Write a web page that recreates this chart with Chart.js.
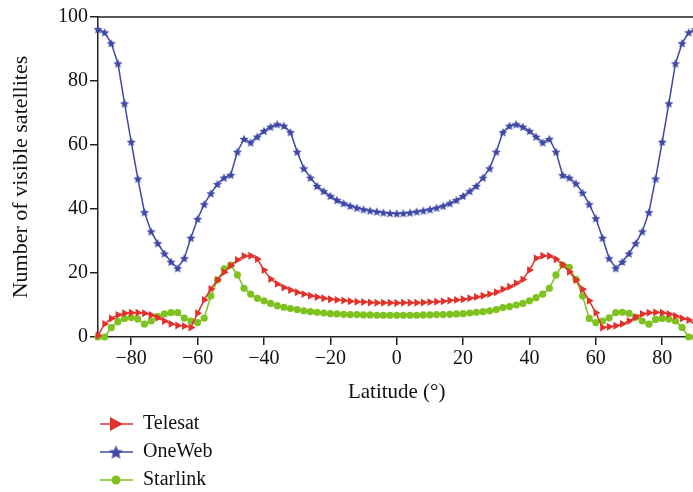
<!DOCTYPE html>
<html>
<head>
<meta charset="utf-8">
<script src="https://cdn.jsdelivr.net/npm/chart.js@4"></script>
<style>
  html, body { margin: 0; padding: 0; background: #fff; overflow: hidden; }
  #contenitore { width: 700px; height: 492px; }
</style>
</head>
<body>
<div id="contenitore"><canvas id="mioGrafico" width="700" height="492"></canvas></div>
<script>
// Latitudini (°) dei campioni
const latitudini = [
  -90, -88, -86, -84, -82, -80, -78, -76, -74, -72, -70, -68, -66, -64, -62, -60,
  -58, -56, -54, -52, -50, -48, -46, -44, -42, -40, -38, -36, -34, -32, -30, -28,
  -26, -24, -22, -20, -18, -16, -14, -12, -10, -8, -6, -4, -2, 0,
  2, 4, 6, 8, 10, 12, 14, 16, 18, 20, 22, 24, 26, 28, 30, 32,
  34, 36, 38, 40, 42, 44, 46, 48, 50, 52, 54, 56, 58, 60, 62, 64,
  66, 68, 70, 72, 74, 76, 78, 80, 82, 84, 86, 88, 90
];

// Numero di satelliti visibili
const telesat = [
  0.5, 4.1, 5.8, 6.9, 7.4, 7.6, 7.6, 7.4, 6.9, 6.0, 5.0, 4.1, 3.6, 3.4, 3.0, 7.4,
  11.6, 15, 17.8, 20.2, 22.3, 24.1, 25.3, 25.4, 24.4, 20.9, 18.1, 16.6, 15.5, 14.7, 14, 13.4,
  12.9, 12.5, 12.1, 11.8, 11.6, 11.4, 11.2, 11, 10.9, 10.8, 10.7, 10.7, 10.7, 10.6,
  10.7, 10.7, 10.7, 10.8, 10.9, 11, 11.2, 11.4, 11.6, 11.8, 12.1, 12.5, 12.9, 13.4, 14, 14.9,
  15.7, 16.8, 18, 20.9, 24.6, 25.4, 25.3, 24.3, 22.6, 20.4, 17.8, 14.9, 11.3, 7.6, 3, 3.2,
  3.5, 4.1, 5, 6.2, 7.2, 7.6, 7.7, 7.6, 7.2, 6.6, 5.8, 5.3, 3.8
];
const oneweb = [
  96.2, 95.2, 91.8, 85.5, 73, 61, 49.5, 39, 33, 29.3, 26.1, 23.5, 21.5, 24.6, 31, 36.9,
  41.5, 44.9, 47.8, 49.8, 50.7, 57.9, 61.9, 60.8, 62.6, 64.4, 65.7, 66.5, 66, 64, 57.9, 52.7,
  49.8, 47.2, 45.6, 44.1, 42.8, 41.8, 41, 40.4, 39.9, 39.5, 39.2, 38.9, 38.7, 38.6,
  38.7, 38.9, 39.2, 39.5, 39.9, 40.4, 41, 41.8, 42.8, 44.1, 45.6, 47.2, 49.8, 52.7, 57.9, 64,
  66, 66.5, 65.7, 64.4, 62.6, 60.8, 61.9, 57.9, 50.6, 49.8, 48, 45.1, 41.5, 37.1, 31, 24.6,
  21.5, 23.5, 26.1, 29.3, 33, 39, 49.5, 61, 73, 85.5, 91.8, 95.2, 96.2
];
const starlink = [
  0, 0, 2.9, 4.8, 5.8, 6.1, 5.6, 4, 5, 6.4, 7.2, 7.6, 7.6, 5.9, 5, 4.5,
  5.9, 12.8, 17.8, 21.3, 22.5, 19.4, 15.2, 13.4, 12.1, 11.3, 10.5, 9.8, 9.3, 8.9, 8.6, 8.2,
  7.9, 7.7, 7.5, 7.3, 7.2, 7.1, 7.0, 7.0, 6.9, 6.9, 6.8, 6.8, 6.8, 6.8,
  6.8, 6.8, 6.8, 6.9, 6.9, 7.0, 7.0, 7.1, 7.2, 7.3, 7.5, 7.7, 7.9, 8.2, 8.6, 9.2,
  9.5, 10, 10.5, 11.3, 12.3, 13.4, 15.2, 19.4, 22.5, 21.8, 18, 12.8, 5.8, 4.5, 5, 6,
  7.6, 7.7, 7.4, 6.2, 5, 4, 5.5, 5.8, 5.6, 5, 3, 0, 0
];

// Etichette degli assi
const tickX = [-80, -60, -40, -20, 0, 20, 40, 60, 80];
const etichetteX = ['\u221280', '\u221260', '\u221240', '\u221220', '0', '20', '40', '60', '80'];
const tickY = [0, 20, 40, 60, 80, 100];
const etichetteY = ['0', '20', '40', '60', '80', '100'];

const nomiSerie = ['Telesat', 'OneWeb', 'Starlink'];

const ROSSO = '#e2302a';
const BLU = '#3e48a6';
const VERDE = '#7dc21e';
const FONT = "'Liberation Serif', 'Times New Roman', serif";

// stella piena a 5 punte disegnata su un canvas, usata come pointStyle
function creaStella(raggio, colore) {
  const c = document.createElement('canvas');
  const s = Math.ceil(raggio * 2 + 2);
  c.width = s; c.height = s;
  const g = c.getContext('2d');
  g.fillStyle = colore;
  g.beginPath();
  for (let i = 0; i < 10; i++) {
    const r = i % 2 === 0 ? raggio : raggio * 0.45;
    const a = -Math.PI / 2 + i * Math.PI / 5;
    const px = s / 2 + r * Math.cos(a), py = s / 2 + r * Math.sin(a) + raggio * 0.1;
    if (i === 0) g.moveTo(px, py); else g.lineTo(px, py);
  }
  g.closePath();
  g.fill();
  return c;
}

const stellaPiccola = creaStella(4.8, BLU);
const stellaGrande = creaStella(7.5, BLU);

// cornice superiore + legenda verticale in basso a sinistra
const pluginCornice = {
  id: 'cornice',
  afterDraw(chart) {
    const { ctx, chartArea } = chart;
    ctx.save();
    ctx.strokeStyle = '#222';
    ctx.lineWidth = 1.5;
    ctx.beginPath();
    ctx.moveTo(chartArea.left, chartArea.top);
    ctx.lineTo(chartArea.right, chartArea.top);
    ctx.lineTo(chartArea.right, chartArea.bottom);
    ctx.stroke();

    const righe = [424, 452, 480];
    const colori = [ROSSO, BLU, VERDE];
    ctx.font = '20px ' + FONT;
    ctx.textBaseline = 'middle';
    righe.forEach((y, i) => {
      ctx.strokeStyle = colori[i];
      ctx.fillStyle = colori[i];
      ctx.lineWidth = 1.5;
      ctx.beginPath();
      ctx.moveTo(100, y);
      ctx.lineTo(133, y);
      ctx.stroke();
      const mx = 116;
      if (i === 0) {
        ctx.beginPath();
        ctx.moveTo(mx - 6, y - 7);
        ctx.lineTo(mx + 7, y);
        ctx.lineTo(mx - 6, y + 7);
        ctx.closePath();
        ctx.fill();
      } else if (i === 1) {
        ctx.drawImage(stellaGrande, mx - stellaGrande.width / 2, y - stellaGrande.height / 2);
      } else {
        ctx.beginPath();
        ctx.arc(mx, y, 4.5, 0, Math.PI * 2);
        ctx.fill();
      }
      ctx.fillStyle = '#111';
      ctx.fillText(nomiSerie[i], 143, y);
    });
    ctx.restore();
  }
};

const serie = (etichetta, valori, colore, extra) => Object.assign({
  label: etichetta,
  data: valori,
  borderColor: colore,
  backgroundColor: colore,
  pointBackgroundColor: colore,
  pointBorderColor: colore,
  borderWidth: 1.5,
  pointBorderWidth: 0,
  pointHoverRadius: 0,
  tension: 0,
  clip: false
}, extra);

new Chart(document.getElementById('mioGrafico').getContext('2d'), {
  type: 'line',
  data: {
    labels: latitudini,
    datasets: [
      serie(nomiSerie[0], latitudini.map((x, i) => ({ x, y: telesat[i] })), ROSSO,
        { pointStyle: 'triangle', rotation: 90, pointRadius: 4.6 }),
      serie(nomiSerie[1], latitudini.map((x, i) => ({ x, y: oneweb[i] })), BLU,
        { pointStyle: stellaPiccola, pointRadius: 4 }),
      serie(nomiSerie[2], latitudini.map((x, i) => ({ x, y: starlink[i] })), VERDE,
        { pointStyle: 'circle', pointRadius: 3.6 })
    ]
  },
  options: {
    responsive: false,
    animation: false,
    devicePixelRatio: 1,
    layout: { padding: { left: 0, right: 0, top: 17, bottom: 87 } },
    plugins: {
      legend: { display: false },
      tooltip: { enabled: false }
    },
    scales: {
      x: {
        type: 'linear',
        min: -90,
        max: 90,
        afterBuildTicks: (asse) => { asse.ticks = tickX.map(v => ({ value: v })); },
        afterFit: (asse) => { asse.height = 68; },
        ticks: {
          color: '#111',
          font: { family: FONT, size: 20 },
          padding: 2,
          maxRotation: 0,
          callback: (v) => etichetteX[tickX.indexOf(v)]
        },
        grid: { drawOnChartArea: false, drawTicks: true, tickLength: 8, color: '#222', lineWidth: 1.5 },
        border: { display: true, color: '#222', width: 1.5 },
        title: {
          display: true,
          text: 'Latitude (\u00b0)',
          color: '#111',
          font: { family: FONT, size: 21 },
          padding: { top: 0, bottom: 0 }
        }
      },
      y: {
        min: 0,
        max: 100,
        afterBuildTicks: (asse) => { asse.ticks = tickY.map(v => ({ value: v })); },
        afterFit: (asse) => { asse.width = 98; },
        ticks: {
          color: '#111',
          font: { family: FONT, size: 20 },
          padding: 2,
          callback: (v) => etichetteY[tickY.indexOf(v)]
        },
        grid: { drawOnChartArea: false, drawTicks: true, tickLength: 8, color: '#222', lineWidth: 1.5 },
        border: { display: true, color: '#222', width: 1.5 },
        title: {
          display: true,
          text: 'Number of visible satellites',
          color: '#111',
          font: { family: FONT, size: 22 },
          padding: { top: 8, bottom: 0 }
        }
      }
    }
  },
  plugins: [pluginCornice]
});
</script>
</body>
</html>
